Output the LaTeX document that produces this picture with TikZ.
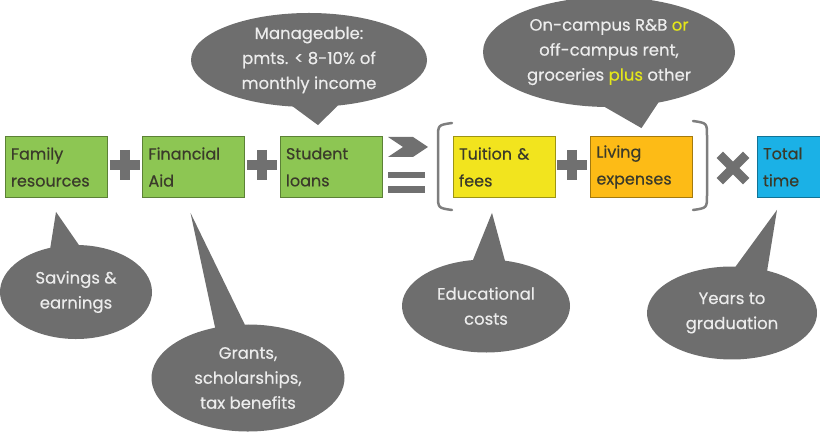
\documentclass[tikz,border=0pt]{standalone}
\usepackage{fontspec}
\newfontfamily\geofont[FakeBold=0.4]{Poppins}
\usetikzlibrary{shapes.callouts}

\definecolor{famgreen}{HTML}{8DC653}
\definecolor{tuityellow}{HTML}{F2E41E}
\definecolor{livorange}{HTML}{FDBB16}
\definecolor{timeblue}{HTML}{1BB1E6}
\definecolor{boxtext}{HTML}{3A3A2A}
\definecolor{bubblegray}{HTML}{6E6E6E}
\definecolor{bubbletext}{HTML}{ECECEC}
\definecolor{signgray}{HTML}{707070}
\definecolor{hilite}{HTML}{E4E61A}

\tikzset{
  costbox/.style={rectangle, draw=#1!65!black, line width=0.8pt, fill=#1,
    minimum width=102pt, minimum height=61pt, text width=90pt, align=left,
    inner sep=0pt, text=boxtext, font=\geofont\fontsize{16}{27}\selectfont},
  bubble/.style={ellipse callout, fill=bubblegray, text=bubbletext, align=center,
    inner sep=-14pt, callout pointer arc=22,
    font=\geofont\fontsize{16.5}{25}\selectfont},
  signnode/.style={rectangle, minimum size=30pt, inner sep=0pt},
  signline/.style={signgray, line width=10pt},
  parenline/.style={signgray!90, line width=2.5pt, line cap=round}
}

\begin{document}
\begin{tikzpicture}[x=1pt,y=-1pt]
  \useasboundingbox (0,0) rectangle (820,435);

  % sources and costs
  \node[costbox=famgreen] (fam) at (56,167) {Family\\resources};
  \node[costbox=famgreen] (aid) at (193.5,167) {Financial\\Aid};
  \node[costbox=famgreen] (loan) at (331,167) {Student\\loans};
  \node[costbox=tuityellow] (tuit) at (504,167) {Tuition \&\\fees};
  \node[costbox=livorange] (live) at (641.5,167) {Living\\expenses};
  \node[costbox=timeblue, minimum width=66pt, text width=54pt] (time) at (790,167) {Total\\time};

  % plus signs
  \node[signnode] (p1) at (125,165) {};
  \node[signnode] (p2) at (262,165) {};
  \node[signnode] (p3) at (572,165) {};
  \foreach \p in {p1,p2,p3}
    \draw[signline] (\p.west) -- (\p.east) (\p.north) -- (\p.south);

  % times sign
  \node[signnode, minimum size=26pt] (tms) at (733,168) {};
  \draw[signline, line width=9pt] (tms.north west) -- (tms.south east)
    (tms.north east) -- (tms.south west);

  % greater or equal
  \fill[signgray] (388,137) -- (413,137) -- (428,147) -- (413,157) -- (388,157) -- (403,147) -- cycle;
  \fill[signgray] (388,172) rectangle (425,178);
  \fill[signgray] (388,186) rectangle (425,193);

  % brackets
  \draw[parenline] (452,123) .. controls (438,125) .. (438,138) -- (438,195) .. controls (438,208) .. (452,210);
  \draw[parenline] (693,121) .. controls (707,123) .. (707,136) -- (707,195) .. controls (707,208) .. (693,210);

  % callouts
  \node[bubble, minimum width=236pt, minimum height=94pt,
    callout absolute pointer={([shift={(-13,-11)}]loan.north)}] (mng) at (309,60)
    {Manageable:\\pmts. < 8-10\% of\\monthly income};
  \node[bubble, minimum width=252pt, minimum height=110pt, callout pointer arc=25,
    callout absolute pointer={([shift={(0,-8)}]live.north)}] (camp) at (609,52)
    {On-campus R\&B \textcolor{hilite}{or}\\off-campus rent,\\groceries \textcolor{hilite}{plus} other};
  \node[bubble, minimum width=152pt, minimum height=94pt,
    callout absolute pointer={([shift={(0,14)}]fam.south)}] (sav) at (76,292)
    {Savings \&\\earnings};
  \node[bubble, minimum width=193pt, minimum height=107pt, callout pointer arc=18,
    callout absolute pointer={([shift={(-3,15)}]aid.south)}] (grnt) at (248,378)
    {Grants,\\scholarships,\\tax benefits};
  \node[bubble, minimum width=168pt, minimum height=93pt,
    callout absolute pointer={([shift={(-12,15)}]tuit.south)}] (edu) at (486,306)
    {Educational\\costs};
  \node[bubble, minimum width=170pt, minimum height=93pt,
    callout absolute pointer={([shift={(-13,12)}]time.south)}] (yrs) at (732,313)
    {Years to\\graduation};
\end{tikzpicture}
\end{document}
